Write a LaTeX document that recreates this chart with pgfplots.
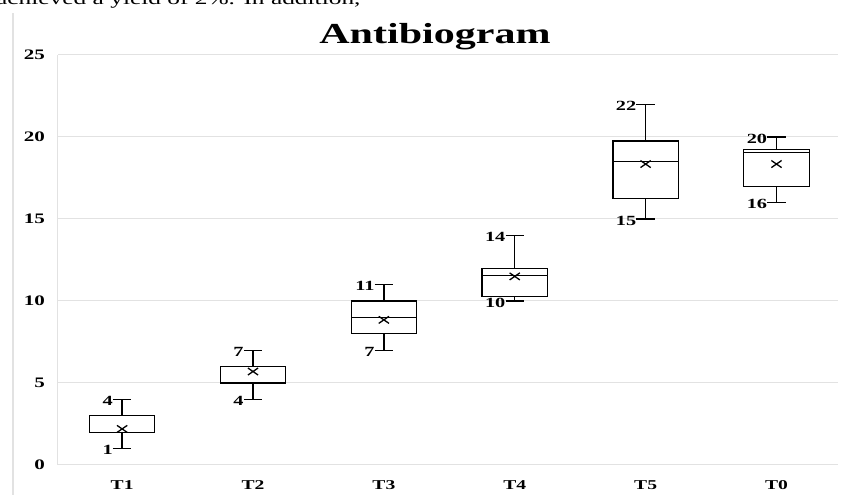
\documentclass[border=0pt]{standalone}
\usepackage{pgfplots}
\pgfplotsset{compat=1.18}
\usepgfplotslibrary{statistics}
\usepackage{fontspec}
\setmainfont{Liberation Serif}
\newfontfamily\lab[FakeStretch=1.45]{Liberation Serif}
\definecolor{gridc}{RGB}{226,226,226}
\begin{document}
\begin{tikzpicture}
\path[use as bounding box] (-58pt,-30pt) rectangle (786pt,465pt);
\node[overlay, anchor=base west, inner sep=0, font=\lab\fontsize{17.5}{17.5}\selectfont] at (-62pt,460pt) {achieved a yield of 2\%. In addition,};
\draw[gridc, line width=1.2pt] (-45pt,-30pt) -- (-45pt,452pt);
\begin{axis}[at={(0,0)}, anchor=south west, scale only axis,
  width=780pt, height=410pt,
  xmin=-0.49, xmax=5.47, ymin=0, ymax=25,
  xtick={0,...,5}, xticklabels={T1,T2,T3,T4,T5,T0},
  ytick={0,5,...,25},
  ymajorgrids, grid style={gridc, line width=1pt},
  axis lines*=left, axis line style={gridc, line width=1pt},
  major tick length=0pt,
  /pgf/number format/assume math mode=true,
  yticklabel style={font=\lab\bfseries\fontsize{14.5}{14.5}\selectfont, anchor=east, inner sep=0pt, xshift=-13pt},
  xticklabel style={font=\lab\bfseries\fontsize{13.5}{13.5}\selectfont, anchor=north, inner sep=0pt, yshift=-15pt},
  clip=false,
  boxplot/draw direction=y,
  boxplot/box extend=0.5, boxplot/whisker extend=0.14,
]
\addplot[black, fill=white, line width=1.3pt, boxplot prepared={draw position=0, lower whisker=1, lower quartile=2, median=2, upper quartile=3, upper whisker=4}] coordinates {};
\addplot[black, fill=white, line width=1.3pt, boxplot prepared={draw position=1, lower whisker=4, lower quartile=5, median=6, upper quartile=6, upper whisker=7}] coordinates {};
\addplot[black, fill=white, line width=1.3pt, boxplot prepared={draw position=2, lower whisker=7, lower quartile=8, median=9, upper quartile=10, upper whisker=11}] coordinates {};
\addplot[black, fill=white, line width=1.3pt, boxplot prepared={draw position=3, lower whisker=10, lower quartile=10.26, median=11.55, upper quartile=12, upper whisker=14}] coordinates {};
\addplot[black, fill=white, line width=1.3pt, boxplot prepared={draw position=4, lower whisker=15, lower quartile=16.25, median=18.5, upper quartile=19.75, upper whisker=22}] coordinates {};
\addplot[black, fill=white, line width=1.3pt, boxplot prepared={draw position=5, lower whisker=16, lower quartile=16.97, median=19.05, upper quartile=19.25, upper whisker=20}] coordinates {};
% means
\addplot[only marks, mark=x, mark size=5pt, mark options={black, line width=1.3pt, xscale=1.45}] coordinates {
(0,2.2) (1,5.7) (2,8.85) (3,11.5) (4,18.35) (5,18.35)};
% whisker labels
\begin{scope}[every node/.style={font=\lab\bfseries\fontsize{14}{14}\selectfont, anchor=east, inner sep=0pt, yshift=-1.5pt}]
\node at (axis cs:-0.07,4) {4};
\node at (axis cs:-0.07,1) {1};
\node at (axis cs:0.93,7) {7};
\node at (axis cs:0.93,4) {4};
\node at (axis cs:1.93,11) {11};
\node at (axis cs:1.93,7) {7};
\node at (axis cs:2.93,14) {14};
\node at (axis cs:2.93,10) {10};
\node at (axis cs:3.93,22) {22};
\node at (axis cs:3.93,15) {15};
\node at (axis cs:4.93,20) {20};
\node at (axis cs:4.93,16) {16};
\end{scope}
\end{axis}
\node[anchor=base, inner sep=0pt, font=\lab\bfseries\fontsize{29}{29}\selectfont] at (377pt,421.7pt) {Antibiogram};
\end{tikzpicture}
\end{document}
